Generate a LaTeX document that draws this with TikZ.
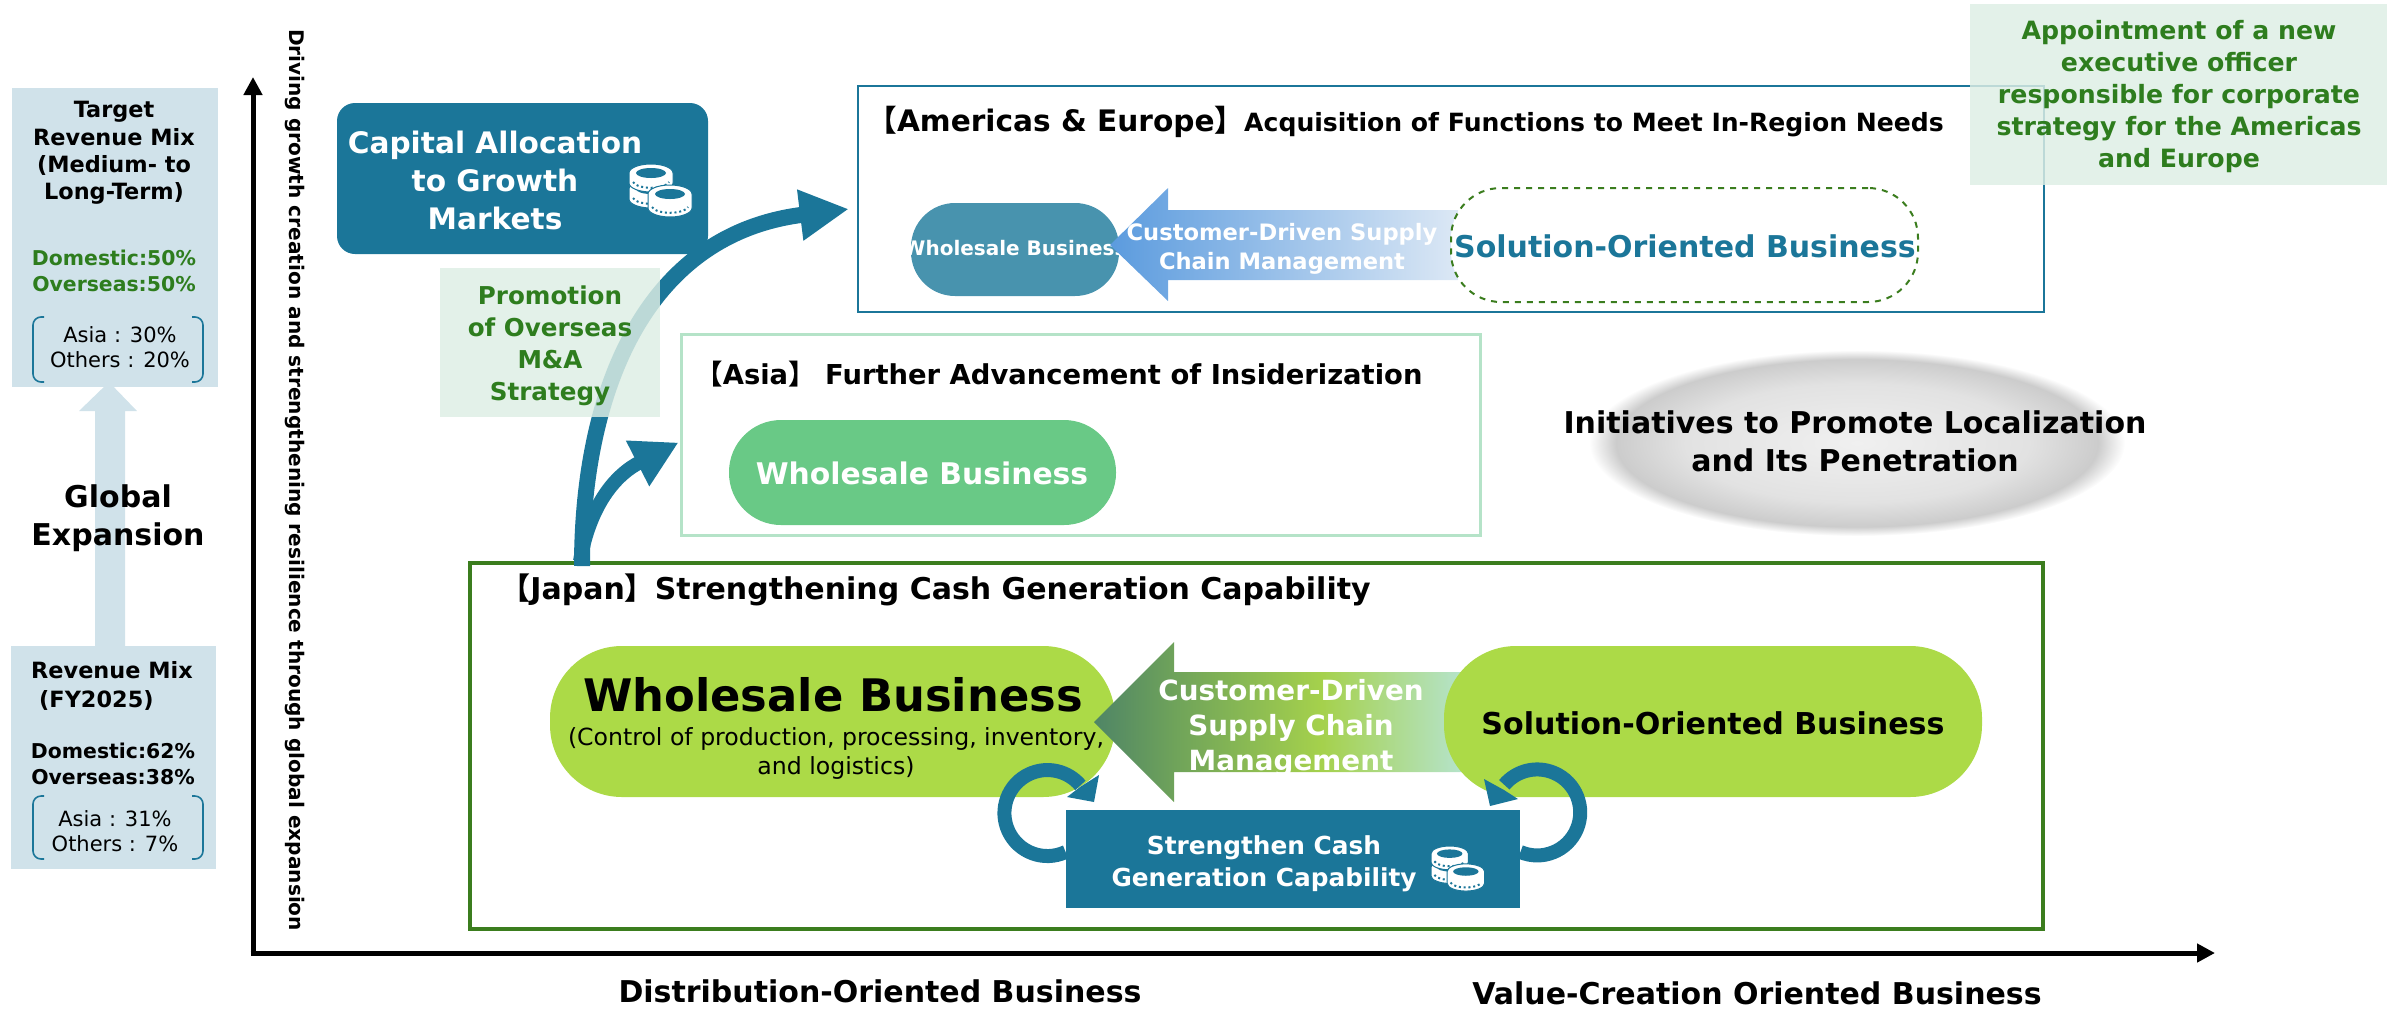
\documentclass[tikz,border=0pt]{standalone}
\usepackage{fontspec}
\setmainfont{DejaVu Sans}
\newfontfamily\cjk{Noto Sans CJK JP}
\usetikzlibrary{arrows.meta,shapes.geometric}
\definecolor{barteal}{HTML}{1B7699}
\definecolor{mixblue}{HTML}{D0E2EA}
\definecolor{notegreen}{HTML}{DDEEE4}
\definecolor{textgreen}{HTML}{2E7D1E}
\definecolor{japangreen}{HTML}{3B7D1E}
\definecolor{asiagreen}{HTML}{B5E3C8}
\definecolor{asiapill}{HTML}{69C986}
\definecolor{limepill}{HTML}{ACDA47}
\definecolor{smallpill}{HTML}{4893AE}
\definecolor{supplyblue}{HTML}{5B9BDE}
\definecolor{supplypale}{HTML}{DCE8F5}
\definecolor{supplydark}{HTML}{4F8566}
\definecolor{supplymoss}{HTML}{6FA35A}
\definecolor{supplylime}{HTML}{A5D14C}
\definecolor{hazein}{HTML}{F0F0F0}
\definecolor{hazemid}{HTML}{E2E2E2}
\definecolor{hazeout}{HTML}{CCCCCC}
\pgfdeclareradialshading{haze}{\pgfpointorigin}{color(0bp)=(hazein); color(16bp)=(hazemid); color(22.5bp)=(hazeout); color(25bp)=(white); color(50bp)=(white)}
\pgfdeclarehorizontalshading{supplyfade}{100bp}{color(0bp)=(supplydark); color(25bp)=(supplydark); color(35bp)=(supplymoss); color(53bp)=(supplylime); color(70bp)=(asiagreen); color(100bp)=(asiagreen)}
\newcommand{\fsize}[2]{\fontsize{#1pt}{#2pt}\selectfont}
\tikzset{
  label/.style={inner sep=0pt,align=center,font=\bfseries},
  mixbox/.style={fill=mixblue,inner sep=0pt},
  notebox/.style={fill=notegreen,fill opacity=.83,inner sep=0pt},
  pill/.style={inner sep=0pt},
  regionbox/.style={fill=none,inner sep=0pt},
  flow/.style={draw=barteal,line width=#1},
  axis/.style={draw=black,line width=2.5pt,-{Triangle[length=9pt,width=9pt]}},
  bracket/.style={draw=barteal,line width=.8pt,rounded corners=4pt},
  pics/coinstack/.style={code={
    \foreach \cx/\cy/\ch in {22/25/10,22/9/10,41/30/14}{
      \draw[fill=white,draw=#1,line width=.5pt] (\cx-22,\cy) -- (\cx-22,\cy+\ch) arc[start angle=180,end angle=0,x radius=22,y radius=9] -- (\cx+22,\cy) arc[start angle=0,end angle=-180,x radius=22,y radius=9] -- cycle;
      \fill[#1] (\cx,\cy) ellipse [x radius=15,y radius=5];
      \draw[#1,line width=1pt,dash pattern=on 1pt off 1.4pt] (\cx-18,\cy+\ch-1) arc[start angle=170,end angle=10,x radius=18.3,y radius=7];
    }}},
}
\begin{document}
\begin{tikzpicture}[x=.5pt,y=-.5pt]
\useasboundingbox (0,0) rectangle (2387,1008);
\pgfmathsetmacro{\loopr}{43}
\coordinate (origin) at (253,953);
\coordinate (yend) at (253,77);
\coordinate (xend) at (2215,953);
\coordinate (growth) at (582,566);
\draw[axis] (origin) -- (yend);
\draw[axis] ([xshift=-1.2pt]origin) -- (xend);
\fill[mixblue] (95,646) -- (95,411) -- (79,411) -- (109,382) -- (137,411) -- (125,411) -- (125,646) -- cycle;
\node (target) [mixbox,minimum width=103pt,minimum height=149.5pt] at (115,237.5) {};
\node (current) [mixbox,minimum width=102.5pt,minimum height=111.5pt] at (113.5,757.5) {};
\node (targettitle) [label,font=\bfseries\fsize{11.2}{13.6}] at (114,153) {Target\\Revenue Mix\\(Medium- to\\Long-Term)};
\node (targetsplit) [label,font=\bfseries\fsize{10.2}{13},text=textgreen] at (114,271) {Domestic:50\%\\Overseas:50\%};
\node (targetareas) [inner sep=0pt,align=center,font=\fsize{10.5}{12.5}] at (120,347) {Asia : 30\%\\Others : 20\%};
\node (global) [label,font=\bfseries\fsize{15}{19}] at (118,518) {Global\\Expansion};
\node (currenttitle) [label,align=left,font=\bfseries\fsize{11.2}{14.5}] at (112,686) {Revenue Mix\\\hspace*{4pt}(FY2025)};
\node (currentsplit) [label,font=\bfseries\fsize{10.2}{13}] at (113,764) {Domestic:62\%\\Overseas:38\%};
\node (currentareas) [inner sep=0pt,align=center,font=\fsize{10.5}{12.5}] at (115,831) {Asia : 31\%\\Others : 7\%};
\foreach \top/\bot in {317/382,796/859}{
  \draw[bracket] (44,\top) -- (33,\top) -- (33,\bot) -- (44,\bot);
  \draw[bracket] (192,\top) -- (203,\top) -- (203,\bot) -- (192,\bot);
}
\node (vertical) [label,rotate=-90,font=\bfseries\fsize{10.05}{11}] at (295,480) {Driving growth creation and strengthening resilience through global expansion};
\node (capital) [fill=barteal,rounded corners=9pt,minimum width=185.5pt,minimum height=75.5pt,inner sep=0pt] at (522.5,178.5) {};
\node (capitaltext) [label,text=white,font=\bfseries\fsize{14.8}{19}] at (495,180) {Capital Allocation\\to Growth\\Markets};
\pic at (629,164) {coinstack=barteal};
\node (americas) [regionbox,draw=barteal,line width=1.2pt,minimum width=593pt,minimum height=113pt] at (1451,199) {};
\node (americastitle) [label,anchor=west,font=\bfseries\fsize{12.55}{14}] at (867,122) {{\fsize{14.8}{14}\cjk 【}{\fsize{14.8}{14}Americas \& Europe}{\fsize{14.8}{14}\cjk 】}Acquisition of Functions to Meet In-Region Needs};
\node (asia) [regionbox,draw=asiagreen,line width=1.5pt,minimum width=399.5pt,minimum height=100.5pt] at (1080.5,434.5) {};
\node (asiatitle) [label,anchor=west,font=\bfseries\fsize{13.7}{14}] at (695,374) {{\cjk 【}Asia{\cjk 】} Further Advancement of Insiderization};
\node (japan) [regionbox,draw=japangreen,line width=2pt,minimum width=786.5pt,minimum height=183pt] at (1256.5,746) {};
\node (japantitle) [label,anchor=west,font=\bfseries\fsize{15}{14}] at (500,590) {{\cjk 【}Japan{\cjk 】}Strengthening Cash Generation Capability};
\draw[flow=7pt,-{Triangle[length=23pt,width=24pt]}] ([xshift=56pt]japan.north west) .. controls (590,505) and (615,475) .. ([xshift=-.5pt,yshift=-4pt]asia.west);
\draw[flow=8pt,-{Triangle[length=24.5pt,width=24pt]}] (growth) .. controls (582,400) and (640,235) .. ([xshift=-4pt,yshift=-5pt]americas.west);
\node (overseas) [notebox,minimum width=110pt,minimum height=74.5pt] at (550,342.5) {};
\node (overseastext) [label,text=textgreen,font=\bfseries\fsize{12.3}{16}] at (550,346) {Promotion\\of Overseas\\M\&A\\Strategy};
\node (officer) [notebox,minimum width=208.5pt,minimum height=90.5pt] at (2178.5,94.5) {};
\node (officertext) [label,text=textgreen,font=\bfseries\fsize{12.6}{16}] at (2179,97) {Appointment of a new\\executive officer\\responsible for corporate\\strategy for the Americas\\and Europe};
\node (amwholesale) [pill,fill=smallpill,rounded corners=22pt,minimum width=104pt,minimum height=46.5pt] at (1015,249.5) {};
\node (amwholesaletext) [label,text=white,font=\bfseries\fsize{10}{12}] at (1015,248) {Wholesale Business};
\shade[left color=supplyblue,right color=supplypale] (1110,245) -- (1168,188) -- (1168,210) -- (1458,210) -- (1458,280) -- (1168,280) -- (1168,301) -- cycle;
\node (amsupply) [label,text=white,font=\bfseries\fsize{11.3}{14.5}] at (1282,249) {Customer-Driven Supply\\Chain Management};
\node (amsolution) [pill,fill=white,draw=japangreen,dashed,line width=1pt,rounded corners=25pt,minimum width=233.5pt,minimum height=57pt] at (1684.5,245) {};
\node (amsolutiontext) [label,text=barteal,font=\bfseries\fsize{15}{18}] at (1685,246) {Solution-Oriented Business};
\node (aswholesale) [pill,fill=asiapill,rounded corners=26pt,minimum width=193.5pt,minimum height=52.5pt] at (922.5,472.5) {};
\node (aswholesaletext) [label,text=white,font=\bfseries\fsize{14.9}{18}] at (922,473) {Wholesale Business};
\node (haze) [ellipse,shade,shading=haze,minimum width=268pt,minimum height=93pt,inner sep=0pt] at (1857,443) {};
\node (hazetext) [label,font=\bfseries\fsize{15}{19}] at (1855,441) {Initiatives to Promote Localization\\and Its Penetration};
\node (jpwholesale) [pill,fill=limepill,rounded corners=36pt,minimum width=282.5pt,minimum height=75.5pt] at (832.5,721.5) {};
\node (jpwholesalemain) [label,font=\bfseries\fsize{22.4}{26}] at (833,695) {Wholesale Business};
\node (jpwholesalesub) [inner sep=0pt,align=center,font=\fsize{11.8}{14.5}] at (836,753) {(Control of production, processing, inventory,\\and logistics)};
\shade[shading=supplyfade] (1094,722) -- (1174,642) -- (1174,672) -- (1500,672) -- (1500,772) -- (1174,772) -- (1174,802) -- cycle;
\node (jpsupply) [label,text=white,font=\bfseries\fsize{13.9}{17.5}] at (1291,728) {Customer-Driven\\Supply Chain\\Management};
\node (jpsolution) [pill,fill=limepill,rounded corners=36pt,minimum width=269pt,minimum height=75.5pt] at (1713,721.5) {};
\node (jpsolutiontext) [label,font=\bfseries\fsize{15.05}{18}] at (1713,723) {Solution-Oriented Business};
\node (cash) [fill=barteal,inner sep=0pt,minimum width=227pt,minimum height=49pt] at (1293,859) {};
\node (cashtext) [label,text=white,font=\bfseries\fsize{12.4}{16}] at (1264,864) {Strengthen Cash\\Generation Capability};
\pic[scale=.85] at (1431,846) {coinstack=barteal};
\draw[flow=7pt] ([yshift=3.5pt]cash.west) arc[start angle=65,end angle=320,radius=\loopr];
\fill[barteal] (1099,775) -- (1094,802) -- (1067,797) -- (1080,787) -- cycle;
\draw[flow=7pt] ([yshift=3.5pt]cash.east) arc[start angle=113,end angle=-140,radius=\loopr];
\fill[barteal] (1484,779) -- (1490,806) -- (1518,799) -- (1504,790) -- cycle;
\node (xleft) [label,font=\bfseries\fsize{15}{16}] at (880,991) {Distribution-Oriented Business};
\node (xright) [label,font=\bfseries\fsize{15}{16}] at (1757,993) {Value-Creation Oriented Business};
\end{tikzpicture}
\end{document}
